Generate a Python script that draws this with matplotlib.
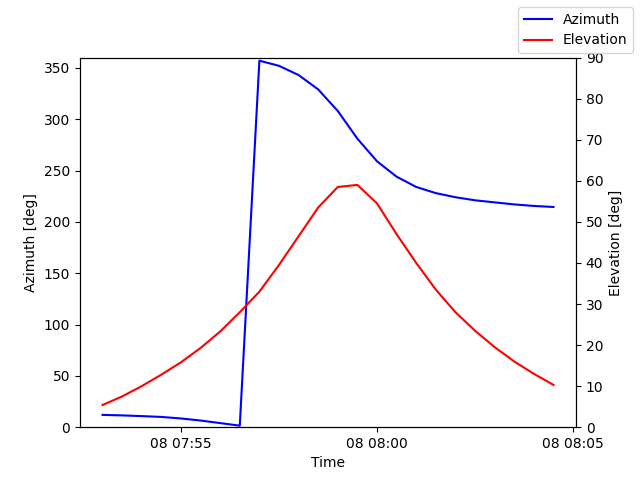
import numpy as np
import pandas as pd
import matplotlib
matplotlib.use('Agg')
import matplotlib.pyplot as plt
import matplotlib.dates as mdates

times = pd.date_range('2021-01-08 07:53:00', periods=24, freq='30s')
azimuth = [12, 11.5, 10.8, 10, 8.5, 6.5, 4, 1.5, 357, 352, 343, 329,
           308, 281, 259, 244, 234, 228, 224, 221, 219, 217, 215.5, 214.5]
elevation = [5.4, 7.5, 10, 12.8, 15.8, 19.3, 23.3, 28, 33, 39.5, 46.5, 53.5,
             58.5, 59, 54.5, 47, 40, 33.5, 28, 23.5, 19.5, 16, 13, 10.3]

fig, ax1 = plt.subplots(figsize=(6.4, 4.8), dpi=100)
ax2 = ax1.twinx()
ax1.plot(times, azimuth, 'b-', label='Azimuth')
ax2.plot(times, elevation, 'r-', label='Elevation')
ax1.set_ylim(0, 360)
ax2.set_ylim(0, 90)
ax1.set_xlabel('Time')
ax1.set_ylabel('Azimuth [deg]')
ax2.set_ylabel('Elevation [deg]')
ax1.xaxis.set_major_locator(mdates.MinuteLocator(byminute=[0, 5, 10, 15, 20, 25, 30, 35, 40, 45, 50, 55]))
ax1.xaxis.set_major_formatter(mdates.DateFormatter('%d %H:%M'))
fig.legend(loc='upper right')
fig.savefig('out.png')
